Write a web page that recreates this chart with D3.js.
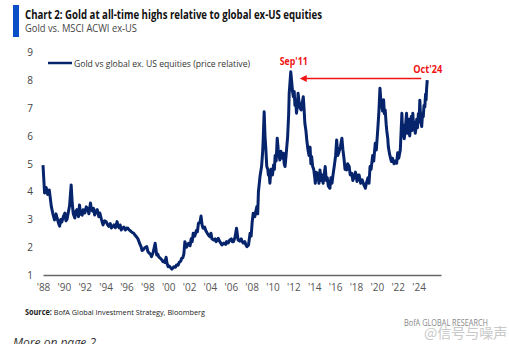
<!DOCTYPE html>
<html lang="en">

<head>
    <meta charset="UTF-8">
    <title>Gold vs global ex-US equities</title>
    <script src="https://cdn.jsdelivr.net/npm/d3@7"></script>
    <style type="text/css">
        body {
            margin: 0;
            background: #fff;
            font-family: 'Open Sans', 'Liberation Sans', sans-serif;
        }
    </style>
</head>

<body>
    <div id="chart"></div>
</body>
<script>
    // gold / MSCI ACWI ex-US price relative: [decimal year, ratio]
    var series = [
        [1988.0, 4.95], [1988.15, 3.95], [1988.3, 4.15], [1988.45, 3.9], [1988.6, 4.06], [1988.8, 3.46],
        [1988.95, 3.2], [1989.1, 2.98], [1989.25, 3.2], [1989.35, 3.05], [1989.5, 2.85], [1989.6, 2.76],
        [1989.7, 3.0], [1989.8, 2.9], [1989.95, 3.1], [1990.1, 3.23], [1990.2, 2.95], [1990.3, 3.0],
        [1990.45, 3.3], [1990.55, 3.5], [1990.7, 4.24], [1990.8, 3.59], [1990.9, 3.2], [1991.05, 3.05],
        [1991.15, 3.3], [1991.25, 3.35], [1991.4, 3.1], [1991.5, 3.52], [1991.6, 3.2], [1991.75, 3.15],
        [1991.85, 3.35], [1992.0, 3.23], [1992.15, 3.45], [1992.25, 3.4], [1992.4, 3.2], [1992.55, 3.59],
        [1992.65, 3.35], [1992.75, 3.3], [1992.85, 3.4], [1992.95, 3.16], [1993.1, 3.3], [1993.2, 3.35],
        [1993.35, 3.1], [1993.45, 3.23], [1993.6, 3.0], [1993.75, 2.8], [1993.9, 2.95], [1994.05, 2.92],
        [1994.2, 2.8], [1994.3, 2.75], [1994.45, 2.85], [1994.55, 2.69], [1994.7, 2.75], [1994.8, 2.8],
        [1994.95, 2.7], [1995.1, 2.92], [1995.2, 2.75], [1995.3, 2.7], [1995.4, 2.8], [1995.5, 2.62],
        [1995.65, 2.7], [1995.75, 2.72], [1995.9, 2.62], [1996.0, 2.69], [1996.15, 2.68], [1996.25, 2.62],
        [1996.35, 2.6], [1996.45, 2.56], [1996.6, 2.52], [1996.7, 2.5], [1996.85, 2.42], [1996.95, 2.38],
        [1997.1, 2.3], [1997.2, 2.2], [1997.3, 2.1], [1997.4, 2.02], [1997.5, 1.88], [1997.6, 1.9],
        [1997.75, 1.98], [1997.95, 2.02], [1998.05, 1.85], [1998.15, 1.8], [1998.3, 1.75], [1998.4, 1.66],
        [1998.55, 1.8], [1998.75, 2.14], [1998.9, 1.72], [1999.0, 1.75], [1999.1, 1.65], [1999.25, 1.6],
        [1999.4, 1.54], [1999.5, 1.48], [1999.6, 1.5], [1999.7, 1.45], [1999.8, 1.64], [1999.9, 1.4],
        [2000.0, 1.3], [2000.1, 1.32], [2000.2, 1.28], [2000.35, 1.21], [2000.45, 1.25], [2000.55, 1.3],
        [2000.7, 1.28], [2000.8, 1.36], [2000.95, 1.35], [2001.05, 1.45], [2001.2, 1.5], [2001.3, 1.6],
        [2001.4, 1.62], [2001.5, 1.75], [2001.6, 2.2], [2001.75, 2.0], [2001.95, 2.14], [2002.1, 2.05],
        [2002.2, 2.3], [2002.3, 2.2], [2002.4, 2.5], [2002.55, 2.4], [2002.7, 2.6], [2002.8, 2.55],
        [2002.9, 2.86], [2003.05, 2.9], [2003.15, 3.12], [2003.25, 2.8], [2003.35, 2.68], [2003.5, 2.72],
        [2003.6, 2.6], [2003.75, 2.5], [2003.85, 2.44], [2004.0, 2.38], [2004.1, 2.5], [2004.2, 2.3],
        [2004.35, 2.26], [2004.5, 2.3], [2004.6, 2.2], [2004.7, 2.25], [2004.8, 2.32], [2004.95, 2.2],
        [2005.15, 2.08], [2005.25, 2.12], [2005.35, 2.15], [2005.5, 2.1], [2005.6, 2.2], [2005.75, 2.15],
        [2005.9, 2.26], [2006.05, 2.3], [2006.15, 2.2], [2006.25, 2.2], [2006.4, 2.35], [2006.55, 2.68],
        [2006.7, 2.26], [2006.85, 2.22], [2007.0, 2.3], [2007.1, 2.2], [2007.2, 2.15], [2007.35, 2.2],
        [2007.45, 2.08], [2007.55, 2.02], [2007.7, 2.08], [2007.85, 2.5], [2007.95, 2.4], [2008.05, 2.9],
        [2008.15, 3.22], [2008.3, 3.1], [2008.4, 3.3], [2008.5, 3.46], [2008.58, 3.2], [2008.65, 4.0],
        [2008.8, 4.54], [2008.95, 4.9], [2009.05, 5.4], [2009.1, 5.8], [2009.2, 6.87], [2009.28, 6.0],
        [2009.35, 5.6], [2009.45, 4.9], [2009.55, 4.8], [2009.6, 4.6], [2009.7, 4.55], [2009.75, 4.3],
        [2009.85, 4.8], [2009.9, 4.7], [2010.0, 4.6], [2010.1, 4.96], [2010.18, 4.8], [2010.25, 5.3],
        [2010.35, 5.1], [2010.45, 5.92], [2010.55, 5.5], [2010.7, 5.14], [2010.8, 5.45], [2010.95, 5.2],
        [2011.05, 5.38], [2011.12, 5.0], [2011.2, 4.9], [2011.3, 5.3], [2011.45, 5.98], [2011.55, 6.8],
        [2011.6, 7.54], [2011.75, 8.31], [2011.8, 8.1], [2011.85, 7.9], [2011.92, 7.6], [2012.0, 7.41],
        [2012.08, 7.6], [2012.15, 7.1], [2012.22, 7.3], [2012.3, 6.82], [2012.38, 7.1], [2012.45, 7.54],
        [2012.55, 7.2], [2012.65, 7.0], [2012.75, 6.94], [2012.85, 7.2], [2012.95, 7.41], [2013.02, 7.0],
        [2013.1, 6.46], [2013.2, 6.2], [2013.3, 5.8], [2013.4, 5.5], [2013.5, 5.3], [2013.6, 5.6],
        [2013.68, 5.0], [2013.75, 5.26], [2013.85, 4.9], [2013.95, 4.8], [2014.05, 4.5], [2014.1, 4.3],
        [2014.2, 4.7], [2014.35, 4.6], [2014.45, 4.3], [2014.55, 4.78], [2014.65, 4.4], [2014.75, 4.6],
        [2014.85, 4.3], [2014.95, 4.6], [2015.05, 4.9], [2015.15, 4.4], [2015.25, 4.5], [2015.35, 4.2],
        [2015.5, 4.12], [2015.6, 4.5], [2015.7, 4.3], [2015.8, 4.6], [2015.95, 5.0], [2016.05, 5.3],
        [2016.15, 5.86], [2016.25, 5.3], [2016.35, 5.4], [2016.5, 5.6], [2016.65, 5.92], [2016.75, 5.5],
        [2016.85, 5.2], [2016.95, 4.8], [2017.1, 4.78], [2017.2, 5.0], [2017.35, 4.9], [2017.45, 4.6],
        [2017.6, 4.66], [2017.7, 4.4], [2017.8, 4.5], [2017.95, 4.7], [2018.1, 4.36], [2018.2, 4.6],
        [2018.3, 4.6], [2018.45, 4.3], [2018.6, 4.42], [2018.75, 4.25], [2018.9, 4.12], [2019.0, 4.3],
        [2019.15, 4.5], [2019.25, 4.3], [2019.35, 4.9], [2019.45, 4.8], [2019.6, 5.3], [2019.7, 5.1],
        [2019.85, 5.74], [2019.95, 5.5], [2020.1, 6.3], [2020.2, 6.9], [2020.3, 7.72], [2020.38, 7.3],
        [2020.45, 7.18], [2020.55, 6.9], [2020.65, 7.3], [2020.72, 6.8], [2020.8, 6.94], [2020.9, 6.4],
        [2020.95, 6.2], [2021.05, 5.9], [2021.1, 5.62], [2021.2, 5.4], [2021.25, 5.3], [2021.35, 5.15],
        [2021.4, 5.08], [2021.5, 5.2], [2021.65, 5.0], [2021.78, 5.1], [2021.9, 5.02], [2022.0, 5.4],
        [2022.1, 5.2], [2022.25, 5.5], [2022.33, 6.2], [2022.4, 6.82], [2022.48, 6.0], [2022.55, 6.4],
        [2022.62, 5.9], [2022.7, 6.1], [2022.78, 6.5], [2022.85, 6.82], [2022.93, 6.1], [2023.0, 6.3],
        [2023.08, 6.6], [2023.15, 6.0], [2023.22, 6.34], [2023.3, 6.7], [2023.38, 6.2], [2023.45, 6.82],
        [2023.52, 6.3], [2023.6, 6.5], [2023.68, 6.1], [2023.75, 6.28], [2023.82, 6.6], [2023.9, 6.3],
        [2023.98, 6.8], [2024.05, 6.5], [2024.12, 7.29], [2024.2, 6.6], [2024.3, 6.34], [2024.38, 6.8],
        [2024.45, 6.7], [2024.52, 7.1], [2024.6, 7.05], [2024.67, 7.5], [2024.72, 7.3], [2024.77, 7.7],
        [2024.83, 8.01]
    ];
    var yTicks = [1, 2, 3, 4, 5, 6, 7, 8, 9];
    var xTicks = d3.range(1988, 2025, 2);

    var navy = "#06246b";
    var red = "#f01414";

    var svg = d3.select("#chart").append("svg")
        .attr("width", 509)
        .attr("height", 344);

    // header block
    svg.append("rect")
        .attr("x", 13).attr("y", 5)
        .attr("width", 6).attr("height", 32)
        .attr("fill", "#0a4fc8");
    svg.append("text")
        .attr("x", 25).attr("y", 19)
        .attr("font-size", 11.5).attr("font-weight", "bold")
        .attr("fill", "#111")
        .attr("textLength", 297).attr("lengthAdjust", "spacingAndGlyphs")
        .text("Chart 2: Gold at all-time highs relative to global ex-US equities");
    svg.append("text")
        .attr("x", 25).attr("y", 32)
        .attr("font-size", 10.5)
        .attr("fill", "#444")
        .attr("textLength", 112).attr("lengthAdjust", "spacingAndGlyphs")
        .text("Gold vs. MSCI ACWI ex-US");

    var x = d3.scaleLinear().domain([1988, 2026.15]).range([43, 441]);
    var y = d3.scaleLinear().domain([1, 9]).range([275, 52.6]);

    // y axis labels (no axis line)
    var yAxis = svg.append("g")
        .attr("transform", "translate(34,0)")
        .call(d3.axisLeft(y).tickValues(yTicks).tickSize(0).tickPadding(0).tickFormat(d3.format("d")));
    yAxis.select(".domain").remove();
    yAxis.selectAll("text")
        .attr("text-anchor", "middle").attr("x", -4)
        .attr("font-size", 10).attr("fill", "#444")
        .attr("font-family", "'Open Sans', sans-serif");

    // x axis
    var xAxis = svg.append("g")
        .attr("transform", "translate(0,275)")
        .call(d3.axisBottom(x).tickValues(xTicks).tickSize(0).tickPadding(9)
            .tickFormat(function (d) { return "'" + String(d).slice(2); }));
    xAxis.select(".domain").attr("stroke", "#666").attr("stroke-width", 1.5);
    xAxis.selectAll("text")
        .attr("font-size", 10).attr("fill", "#555")
        .attr("font-family", "'Open Sans', sans-serif");

    // the series
    var line = d3.line()
        .x(function (d) { return x(d[0]); })
        .y(function (d) { return y(d[1]); });
    svg.append("path")
        .datum(series)
        .attr("d", line)
        .attr("fill", "none")
        .attr("stroke", navy)
        .attr("stroke-width", 3)
        .attr("stroke-linejoin", "round");

    // legend
    svg.append("line")
        .attr("x1", 48).attr("x2", 72).attr("y1", 63).attr("y2", 63)
        .attr("stroke", navy).attr("stroke-width", 2.5);
    svg.append("text")
        .attr("x", 74).attr("y", 66.5)
        .attr("font-size", 9.5).attr("fill", "#333")
        .attr("textLength", 176).attr("lengthAdjust", "spacingAndGlyphs")
        .text("Gold vs global ex. US equities (price relative)");

    // Sep'11 peak and latest point
    var peak = series[d3.maxIndex(series, function (d) { return d[0] < 2015 ? d[1] : 0; })];
    var last = series[series.length - 1];
    svg.append("text")
        .attr("x", x(peak[0]) + 3).attr("y", y(peak[1]) - 7)
        .attr("text-anchor", "middle")
        .attr("font-size", 11).attr("font-weight", "bold").attr("fill", red)
        .attr("textLength", 28).attr("lengthAdjust", "spacingAndGlyphs")
        .text("Sep'11");
    svg.append("text")
        .attr("x", x(last[0]) + 0.5).attr("y", y(last[1]) - 7.5)
        .attr("text-anchor", "middle")
        .attr("font-size", 11).attr("font-weight", "bold").attr("fill", red)
        .attr("textLength", 29).attr("lengthAdjust", "spacingAndGlyphs")
        .text("Oct'24");

    var ay = y(last[1]) - 1.5;
    var ax0 = x(last[0]) - 6;
    var ax1 = x(peak[0]) + 9;
    svg.append("line")
        .attr("x1", ax0).attr("x2", ax1 + 6).attr("y1", ay).attr("y2", ay)
        .attr("stroke", red).attr("stroke-width", 1.5);
    svg.append("path")
        .attr("d", "M" + ax1 + "," + ay + "l7,-3.5v7z")
        .attr("fill", red);

    // footer
    var src = svg.append("text")
        .attr("x", 25).attr("y", 315)
        .attr("font-size", 8).attr("fill", "#222")
        .attr("textLength", 180).attr("lengthAdjust", "spacingAndGlyphs");
    src.append("tspan").attr("font-weight", "bold").text("Source: ");
    src.append("tspan").text("BofA Global Investment Strategy, Bloomberg");

    svg.append("text")
        .attr("x", 13).attr("y", 347)
        .attr("font-size", 12).attr("font-style", "italic").attr("fill", "#333")
        .text("More on page 2");

    svg.append("text")
        .attr("x", 404).attr("y", 326)
        .attr("font-size", 8.5).attr("fill", "#888")
        .attr("textLength", 84).attr("lengthAdjust", "spacingAndGlyphs")
        .text("BofA GLOBAL RESEARCH");
    svg.append("text")
        .attr("x", 424).attr("y", 338)
        .attr("font-size", 14).attr("fill", "#bbb").attr("opacity", 0.8)
        .attr("font-family", "'Noto Sans CJK SC', sans-serif")
        .text("@信号与噪声");
</script>

</html>
